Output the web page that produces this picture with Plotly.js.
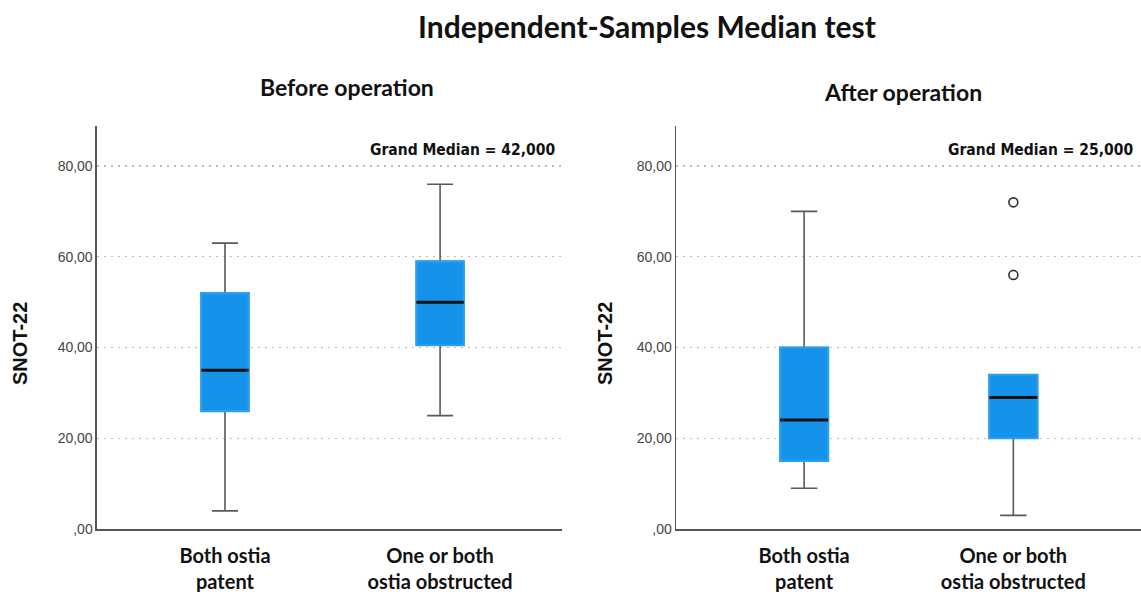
<!DOCTYPE html>
<html>
<head>
<meta charset="utf-8">
<script src="https://cdn.plot.ly/plotly-3.0.1.min.js"></script>
<style>html,body{margin:0;padding:0;background:#fff;}#chart{width:1141px;height:592px;}</style>
</head>
<body>
<div id="chart"></div>
<script>
// ---- data ----
const categories = ['Both ostia<br>patent', 'One or both<br>ostia obstructed'];
const xPos = [0, 1];
const yTickVals = [0, 20, 40, 60, 80];
const yTickText = [',00', '20,00', '40,00', '60,00', '80,00'];

const beforeLower  = [4, 25];
const beforeQ1     = [26, 40.5];
const beforeMedian = [35, 50];
const beforeQ3     = [52, 59];
const beforeUpper  = [63, 76];

const afterLower  = [9, 3];
const afterQ1     = [15, 20];
const afterMedian = [24, 29];
const afterQ3     = [40, 34];
const afterUpper  = [70, 34];
const afterOutlierX = [1, 1];
const afterOutlierY = [72, 56];

const grandMedianBefore = '42,000';
const grandMedianAfter = '25,000';

// ---- styles ----
const FILL = '#1592EA';
const EDGE = '#2aa0f0';
const WHISK = '#5a5a5a';

function panel(xa, ya, lower, q1, med, q3, upper, bw) {
  const traces = [];
  traces.push({
    type: 'box', xaxis: xa, yaxis: ya, x: xPos,
    q1: q1, median: med, q3: q3, lowerfence: lower, upperfence: upper,
    width: bw, whiskerwidth: 0.55, fillcolor: FILL,
    line: {color: WHISK, width: 1.6}, showlegend: false, hoverinfo: 'skip'
  });
  traces.push({
    type: 'box', xaxis: xa, yaxis: ya, x: xPos,
    q1: q1, median: med, q3: q3, lowerfence: q1, upperfence: q3,
    width: bw, whiskerwidth: 0, fillcolor: FILL,
    line: {color: EDGE, width: 2.2}, showlegend: false, hoverinfo: 'skip'
  });
  const mx = [], my = [];
  xPos.forEach((p, i) => { mx.push(p - bw / 2, p + bw / 2, null); my.push(med[i], med[i], null); });
  traces.push({
    type: 'scatter', mode: 'lines', xaxis: xa, yaxis: ya, x: mx, y: my,
    line: {color: '#111', width: 3}, showlegend: false, hoverinfo: 'skip'
  });
  return traces;
}

const data = [].concat(
  panel('x', 'y', beforeLower, beforeQ1, beforeMedian, beforeQ3, beforeUpper, 0.22),
  panel('x2', 'y2', afterLower, afterQ1, afterMedian, afterQ3, afterUpper, 0.23),
  [{
    type: 'scatter', mode: 'markers', xaxis: 'x2', yaxis: 'y2',
    x: afterOutlierX, y: afterOutlierY,
    marker: {symbol: 'circle-open', size: 9, color: '#333', line: {width: 1.6}},
    showlegend: false, hoverinfo: 'skip'
  }]
);

const xTickFont = {family: 'Lato, "Open Sans", sans-serif', size: 20, color: '#111', weight: 'bold'};
const yTickFont = {family: '"Liberation Sans", Arial, sans-serif', size: 14, color: '#444'};

function xAxis(domain, range, anchor) {
  return {
    domain: domain, range: range, anchor: anchor,
    tickmode: 'array', tickvals: xPos, ticktext: categories,
    showline: true, linecolor: '#555', linewidth: 1.5,
    showgrid: false, zeroline: false, ticks: '', tickfont: xTickFont, fixedrange: true,
    ticklabelstandoff: 8
  };
}
function yAxis(anchor) {
  return {
    domain: [0.1064, 0.787], range: [0, 88.8], anchor: anchor,
    tickmode: 'array', tickvals: yTickVals, ticktext: yTickText,
    showline: true, linecolor: '#555', linewidth: 1.5,
    showgrid: true, gridcolor: '#bdbdbd', griddash: '2px,5px', gridwidth: 1.2,
    zeroline: false, ticks: '', tickfont: yTickFont, fixedrange: true
  };
}

const narrow = {family: '"Liberation Sans Narrow", "Arial Narrow", "DejaVu Sans Condensed", sans-serif', size: 15.5, color: '#111', weight: 'bold'};
const subFont = {family: 'Lato, "Open Sans", sans-serif', size: 23, color: '#111', weight: 'bold'};
const ytFont = {family: '"Liberation Sans", Arial, sans-serif', size: 20, color: '#111', weight: 'bold'};

const layout = {
  width: 1141, height: 592,
  margin: {l: 0, r: 0, t: 0, b: 0},
  paper_bgcolor: '#fff', plot_bgcolor: '#fff',
  showlegend: false,
  title: {
    text: 'Independent-Samples Median test',
    x: 0.567, xanchor: 'center', y: 1 - 27 / 592, yanchor: 'middle',
    font: {family: 'Lato, "Open Sans", sans-serif', size: 30, color: '#111', weight: 'bold'}
  },
  xaxis: xAxis([0.085, 0.4926], [-0.595, 1.567], 'y'),
  yaxis: yAxis('x'),
  xaxis2: xAxis([0.5925, 1.0], [-0.612, 1.61], 'y2'),
  yaxis2: yAxis('x2'),
  annotations: [
    {text: 'Before operation', xref: 'paper', yref: 'paper', x: 347 / 1141, y: 1 - 87 / 592, xanchor: 'center', yanchor: 'middle', showarrow: false, font: subFont},
    {text: 'After operation', xref: 'paper', yref: 'paper', x: 903 / 1141, y: 1 - 92 / 592, xanchor: 'center', yanchor: 'middle', showarrow: false, font: subFont},
    {text: 'Grand Median = ' + grandMedianBefore, xref: 'paper', yref: 'paper', x: 557 / 1141, y: 1 - 150 / 592, xanchor: 'right', yanchor: 'middle', showarrow: false, font: narrow},
    {text: 'Grand Median = ' + grandMedianAfter, xref: 'paper', yref: 'paper', x: 1135 / 1141, y: 1 - 150 / 592, xanchor: 'right', yanchor: 'middle', showarrow: false, font: narrow},
    {text: 'SNOT-22', xref: 'paper', yref: 'paper', x: 20 / 1141, y: 1 - 344 / 592, xanchor: 'center', yanchor: 'middle', textangle: -90, showarrow: false, font: ytFont},
    {text: 'SNOT-22', xref: 'paper', yref: 'paper', x: 605 / 1141, y: 1 - 344 / 592, xanchor: 'center', yanchor: 'middle', textangle: -90, showarrow: false, font: ytFont}
  ]
};

Plotly.newPlot('chart', data, layout, {displayModeBar: false, staticPlot: true});
</script>
</body>
</html>
